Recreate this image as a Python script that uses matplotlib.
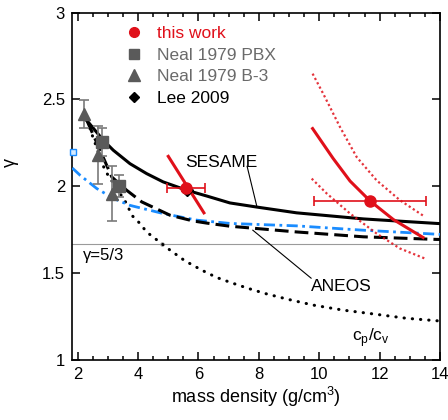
import matplotlib
matplotlib.use("Agg")
import matplotlib.pyplot as plt
from matplotlib.lines import Line2D
from matplotlib.ticker import MultipleLocator

plt.rcParams['font.family'] = ['Liberation Sans', 'DejaVu Sans']
plt.rcParams['mathtext.fontset'] = 'custom'
plt.rcParams['mathtext.rm'] = 'Liberation Sans'

RED = '#e0101a'
GRAY = '#5a5a5a'
BLUE = '#1a8cff'

# model curves
sesame_x = [2.3, 2.85, 3.18, 3.73, 4.28, 4.83, 5.61, 6.27, 7.04, 7.94, 9.25, 11.46, 13.89, 14.0]
sesame_y = [2.379, 2.264, 2.207, 2.13, 2.073, 2.025, 1.977, 1.944, 1.904, 1.88, 1.847,
            1.812, 1.786, 1.785]
aneos_x = [2.3, 2.35, 2.57, 3.13, 3.62, 4.12, 5.06, 5.83, 6.27, 7.04, 9.25, 11.46, 13.89, 14.0]
aneos_y = [2.38, 2.36, 2.274, 2.053, 1.977, 1.91, 1.833, 1.80, 1.788, 1.77, 1.737, 1.709,
           1.694, 1.694]
blue_x = [1.82, 2.08, 2.63, 3.18, 3.73, 4.83, 5.94, 7.04, 9.25, 11.46, 13.89, 14.0]
blue_y = [2.105, 2.063, 1.987, 1.93, 1.89, 1.843, 1.805, 1.786, 1.772, 1.747, 1.724, 1.723]
cpcv_x = [2.3, 2.9, 3.62, 3.79, 4.06, 4.28, 5.06, 5.55, 6.11, 6.6, 7.1, 7.65, 8.2,
          8.97, 9.8, 10.79, 11.84, 12.89, 13.89, 14.0]
cpcv_y = [2.38, 2.092, 1.90, 1.833, 1.786, 1.737, 1.632, 1.571, 1.517, 1.475, 1.444,
          1.412, 1.383, 1.349, 1.316, 1.287, 1.264, 1.24, 1.226, 1.224]

# this work
work_x = [5.6, 11.68]
work_y = [1.99, 1.916]
work_xerr = [0.63, 1.87]
low_line_x = [5.0, 6.18]
low_line_y = [2.172, 1.847]
high_x = [9.78, 10.46, 11.02, 11.68, 12.45, 13.44]
high_y = [2.332, 2.16, 2.03, 1.916, 1.809, 1.705]
high_up_x = [9.78, 10.13, 10.69, 11.24, 11.90, 12.67, 13.5]
high_up_y = [2.648, 2.533, 2.34, 2.168, 2.034, 1.92, 1.824]
high_lo_x = [9.75, 10.25, 11.02, 11.90, 12.67, 13.5]
high_lo_y = [2.044, 1.958, 1.843, 1.728, 1.642, 1.584]

# literature
pbx_x = [2.79, 3.37]
pbx_y = [2.255, 2.002]
pbx_err = [0.08, 0.065]
b3_x = [2.22, 2.68, 3.13]
b3_y = [2.418, 2.178, 1.958]
b3_err = [0.08, 0.167, 0.16]
lee_x = [5.61]
lee_y = [1.977]
blue_pt_x = [1.845]
blue_pt_y = [2.197]
cross_x = [4.78]
cross_y = [1.667]

fig = plt.figure(figsize=(4.48, 4.2), dpi=100)
ax = fig.add_axes([72 / 448, 60 / 420, 368 / 448, 347.5 / 420])

ax.axhline(5 / 3, color='#9a9a9a', lw=0.8, zorder=1)
ax.plot(cross_x, cross_y, 'o', ms=2.5, mfc='white', mec='#9a9a9a', mew=0.7, zorder=2)

ax.plot(cpcv_x, cpcv_y, color='black', lw=2.2, ls=(0, (0.1, 2.6)),
        dash_capstyle='round', zorder=3)
ax.plot(blue_x, blue_y, color=BLUE, lw=2.0, ls=(0, (4, 1.6, 1, 1.6)), zorder=3)
ax.plot(aneos_x, aneos_y, color='black', lw=2.2, ls=(0, (4.5, 2)), zorder=4)
ax.plot(sesame_x, sesame_y, color='black', lw=2.2, zorder=4)
ax.plot(blue_pt_x, blue_pt_y, 's', ms=5, mfc='#d6ebff', mec=BLUE, mew=1.0,
        clip_on=False, zorder=6)

ax.errorbar(b3_x, b3_y, yerr=b3_err, fmt='^', ms=9, color=GRAY, ecolor='#7a7a7a',
            elinewidth=1.2, capsize=3.5, capthick=1.2, zorder=5)
ax.errorbar(pbx_x, pbx_y, yerr=pbx_err, fmt='s', ms=8, color=GRAY, ecolor='#7a7a7a',
            elinewidth=1.2, capsize=3.5, capthick=1.2, zorder=5)

ax.plot(low_line_x, low_line_y, color=RED, lw=2.2, zorder=6)
ax.plot(high_x, high_y, color=RED, lw=2.2, zorder=6)
ax.plot(high_up_x, high_up_y, color=RED, lw=1.6, ls=(0, (1, 1.2)), alpha=0.85, zorder=6)
ax.plot(high_lo_x, high_lo_y, color=RED, lw=1.6, ls=(0, (1, 1.2)), alpha=0.85, zorder=6)
ax.plot(lee_x, lee_y, 'D', ms=6, color='black', zorder=7)
ax.errorbar(work_x, work_y, xerr=work_xerr, fmt='o', ms=8, color=RED, ecolor=RED,
            elinewidth=1.2, capsize=3.5, capthick=1.2, zorder=8)

# annotations
ax.text(6.75, 2.138, 'SESAME', fontsize=12.5, ha='center', va='center')
ax.plot([7.61, 7.94], [2.115, 1.879], color='black', lw=0.8)
ax.text(10.74, 1.425, 'ANEOS', fontsize=12.5, ha='center', va='center')
ax.plot([9.73, 7.8], [1.471, 1.747], color='black', lw=0.8)
ax.text(2.17, 1.603, 'γ=5/3', fontsize=12, ha='left', va='center')
ax.text(11.07, 1.13, r'c$_\mathregular{p}$/c$_\mathregular{v}$', fontsize=12.5,
        ha='left', va='center')

# legend
handles = [
    Line2D([], [], ls='none', marker='o', ms=7, color=RED),
    Line2D([], [], ls='none', marker='s', ms=7, color=GRAY),
    Line2D([], [], ls='none', marker='^', ms=8, color=GRAY),
    Line2D([], [], ls='none', marker='D', ms=5, color='black'),
]
labels = ['this work', 'Neal 1979 PBX', 'Neal 1979 B-3', 'Lee 2009']
leg = ax.legend(handles, labels, loc='upper left', bbox_to_anchor=(0.122, 0.997),
                frameon=False, fontsize=12.5, handlelength=0.6, handletextpad=1.0,
                labelspacing=0.38, borderpad=0.2)
for t, c in zip(leg.get_texts(), [RED, '#6a6a6a', '#6a6a6a', 'black']):
    t.set_color(c)

ax.set_xlim(1.81, 14)
ax.set_ylim(1, 3)
ax.xaxis.set_major_locator(MultipleLocator(2))
ax.xaxis.set_minor_locator(MultipleLocator(0.5))
ax.set_yticks([1, 1.5, 2, 2.5, 3], ['1', '1.5', '2', '2.5', '3'])
ax.tick_params(which='both', direction='in', top=True, right=True, labelsize=12,
               width=1.1, pad=5)
ax.tick_params(which='major', length=6)
ax.tick_params(which='minor', length=3)
for s in ax.spines.values():
    s.set_linewidth(1.2)

ax.set_xlabel('mass density (g/cm$^\\mathregular{3}$)', fontsize=13, labelpad=2)
ax.set_ylabel('γ', fontsize=13, rotation=90)
ax.yaxis.set_label_coords(-0.145, 0.567)

fig.savefig('out.png', dpi=100)
